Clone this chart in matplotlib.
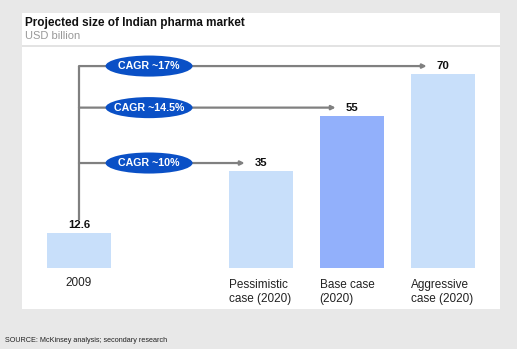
import matplotlib.pyplot as plt
from matplotlib.patches import Rectangle, Ellipse

plt.rcParams['font.family'] = ['Liberation Sans', 'DejaVu Sans']

categories = ['2009', 'Pessimistic\ncase (2020)', 'Base case\n(2020)', 'Aggressive\ncase (2020)']
positions = [0, 2, 3, 4]
values = [12.6, 35, 55, 70]
value_labels = ['12.6', '35', '55', '70']
bar_colors = ['#c8dffa', '#c8dffa', '#92b0fb', '#c8dffa']
cagr_labels = ['CAGR ~10%', 'CAGR ~14.5%', 'CAGR ~17%']

W, H = 517, 349
fig = plt.figure(figsize=(W / 100, H / 100), dpi=100, facecolor='#e8e8e8')

# white panel + thin separator under the title
fig.patches.append(Rectangle((22 / W, 1 - 309 / H), 478 / W, 296 / H,
                             transform=fig.transFigure, facecolor='white',
                             edgecolor='none', zorder=-2))
fig.patches.append(Rectangle((22 / W, 1 - 47 / H), 478 / W, 2 / H,
                             transform=fig.transFigure, facecolor='#e3e3e3',
                             edgecolor='none', zorder=-1))

fig.text(25 / W, 1 - 23 / H, 'Projected size of Indian pharma market',
         fontsize=8.5, fontweight='bold', color='#111111', va='center')
fig.text(25 / W, 1 - 36 / H, 'USD billion', fontsize=8, color='#999999', va='center')
fig.text(5 / W, 1 - 340 / H, 'SOURCE: McKinsey analysis; secondary research',
         fontsize=5.2, color='#222222', va='center')

ax = fig.add_axes([22 / W, (H - 268.3) / H, 478 / W, 218.3 / H])
ax.set_xlim(-0.626, 4.626)
ax.set_ylim(0, 78.8)
ax.axis('off')

ax.bar(positions, values, width=0.71, color=bar_colors, zorder=2)

# value labels
for p, v, t in zip(positions, values, value_labels):
    ax.text(p, v + 3.0, t, ha='center', va='center', fontsize=8.2,
            fontweight='bold', color='#111111')

# connector lines from the 2009 bar
line_col = '#808080'
arrow_y = [v + 3.0 for v in values[1:]]
ax.plot([0, 0], [17.4, arrow_y[-1]], color=line_col, lw=1.6, zorder=1,
        solid_capstyle='butt')
for p, y, lab in zip(positions[1:], arrow_y, cagr_labels):
    ax.annotate('', xy=(p - 0.18, y), xytext=(0, y),
                arrowprops=dict(arrowstyle='-|>', color=line_col, lw=1.6,
                                mutation_scale=6, shrinkA=0, shrinkB=0))
    ax.add_patch(Ellipse((0.77, y), 0.956, 7.6, facecolor='#0a50c6',
                         edgecolor='none', zorder=3))
    ax.text(0.77, y, lab, ha='center', va='center', fontsize=7.7,
            fontweight='bold', color='white', zorder=4)

# category labels
for p, c in zip(positions, categories):
    if p == 0:
        ax.text(p, -5.2, c, ha='center', va='center', fontsize=8.5,
                color='#222222', clip_on=False)
    else:
        ax.text(p - 0.355, -3.8, c, ha='left', va='top', fontsize=8.5,
                color='#222222', linespacing=1.2, clip_on=False)

fig.savefig('out.png', dpi=100, facecolor=fig.get_facecolor())
